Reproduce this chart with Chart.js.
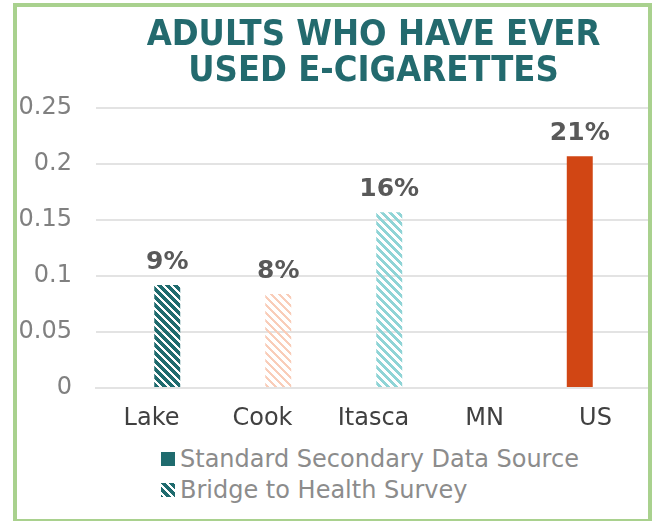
<!DOCTYPE html>
<html>
<head>
<meta charset="utf-8">
<script src="https://cdn.jsdelivr.net/npm/chart.js@4.4.1/dist/chart.umd.min.js"></script>
<style>
  html, body { margin: 0; padding: 0; background: #fff; }
  body { width: 659px; height: 521px; position: relative; overflow: hidden; }
  #c { position: absolute; left: 0; top: 0; }
  .frame {
    position: absolute; left: 13px; top: 3px; width: 639px; height: 520px;
    border: 4px solid #a9d18e; box-sizing: border-box; pointer-events: none;
  }
  #legend {
    position: absolute; left: 161px; top: 443px;
    font: 24px 'DejaVu Sans', Verdana, sans-serif; color: #8c8c8c;
  }
  #legend .item { display: flex; align-items: center; height: 31px; white-space: nowrap; }
  #legend .box { width: 14px; height: 14px; margin-right: 5px; }
</style>
</head>
<body>
<canvas id="c" width="659" height="436"></canvas>
<div id="legend"></div>
<div class="frame"></div>
<script>
// ---- data ----
const categories = ['Lake', 'Cook', 'Itasca', 'MN', 'US'];
const standardValues = [null, null, null, null, 0.207];
const bridgeValues = [0.092, 0.084, 0.157, null, null];
const seriesNames = ['Standard Secondary Data Source', 'Bridge to Health Survey'];
const titleLines = ['ADULTS WHO HAVE EVER', 'USED E-CIGARETTES'];

const FONT = "'DejaVu Sans', Verdana, sans-serif";
const TEAL = '#1f6b6e';

// 8x8 downward diagonal tile, like the Excel fill pattern
function stripeTile(color, band) {
  const t = document.createElement('canvas');
  t.width = 8; t.height = 8;
  const g = t.getContext('2d');
  g.fillStyle = color;
  for (let y = 0; y < 8; y++) {
    for (let x = 0; x < 8; x++) {
      if ((((x - y) % 8) + 8) % 8 < band) g.fillRect(x, y, 1, 1);
    }
  }
  return t;
}

const canvas = document.getElementById('c');
const ctx = canvas.getContext('2d');
const lakeTile = stripeTile(TEAL, 5);
const bridgeFills = [
  ctx.createPattern(lakeTile, 'repeat'),
  ctx.createPattern(stripeTile('#f9cdb9', 3), 'repeat'),
  ctx.createPattern(stripeTile('#8fd4d6', 4), 'repeat'),
  null,
  null,
];

const dataLabels = {
  id: 'dataLabels',
  afterDatasetsDraw(chart) {
    const c = chart.ctx;
    c.save();
    c.font = `bold 25px ${FONT}`;
    c.fillStyle = '#595959';
    c.textAlign = 'center';
    c.textBaseline = 'alphabetic';
    chart.data.datasets.forEach((ds, i) => {
      chart.getDatasetMeta(i).data.forEach((bar, j) => {
        const v = ds.data[j];
        if (v == null) return;
        c.fillText(Math.round(v * 100) + '%', bar.x, bar.y - 16);
      });
    });
    c.restore();
  },
};

const chart = new Chart(canvas, {
  type: 'bar',
  data: {
    labels: categories,
    datasets: [
      {
        label: seriesNames[0],
        data: standardValues,
        backgroundColor: '#d14614',
        legendFill: TEAL,
      },
      {
        label: seriesNames[1],
        data: bridgeValues,
        backgroundColor: bridgeFills,
        legendFill: `url(${lakeTile.toDataURL()})`,
      },
    ],
  },
  options: {
    responsive: false,
    animation: false,
    categoryPercentage: 0.567,
    barPercentage: 0.825,
    layout: { padding: { left: 16, right: 8, top: 0, bottom: 4 } },
    scales: {
      x: {
        afterFit: (s) => { s.height = 44; },
        grid: { display: false, drawTicks: false },
        border: { color: '#e3e3e3', width: 2 },
        ticks: { color: '#404040', padding: 16, maxRotation: 0, font: { family: FONT, size: 24 } },
      },
      y: {
        min: 0,
        max: 0.25,
        afterFit: (s) => { s.width = 80; },
        grid: { color: '#e3e3e3', lineWidth: 2, drawTicks: false },
        border: { display: false },
        ticks: {
          stepSize: 0.05,
          padding: 24,
          color: '#808080',
          font: { family: FONT, size: 24 },
          callback: (v) => String(Number(v.toFixed(2))),
        },
      },
    },
    plugins: {
      legend: { display: false },
      tooltip: { enabled: false },
      title: {
        display: true,
        fullSize: false,
        text: titleLines,
        color: '#236a6e',
        font: { family: "'DejaVu Sans Condensed', 'DejaVu Sans', sans-serif", size: 36, weight: 'bold', lineHeight: 1.0 },
        padding: { top: 18, bottom: 18 },
      },
    },
  },
  plugins: [dataLabels],
});

// legend as html so both rows line up on the left
const legendEl = document.getElementById('legend');
chart.data.datasets.forEach((ds) => {
  const item = document.createElement('div');
  item.className = 'item';
  const box = document.createElement('span');
  box.className = 'box';
  box.style.background = ds.legendFill;
  const txt = document.createElement('span');
  txt.textContent = ds.label;
  item.append(box, txt);
  legendEl.append(item);
});
</script>
</body>
</html>
